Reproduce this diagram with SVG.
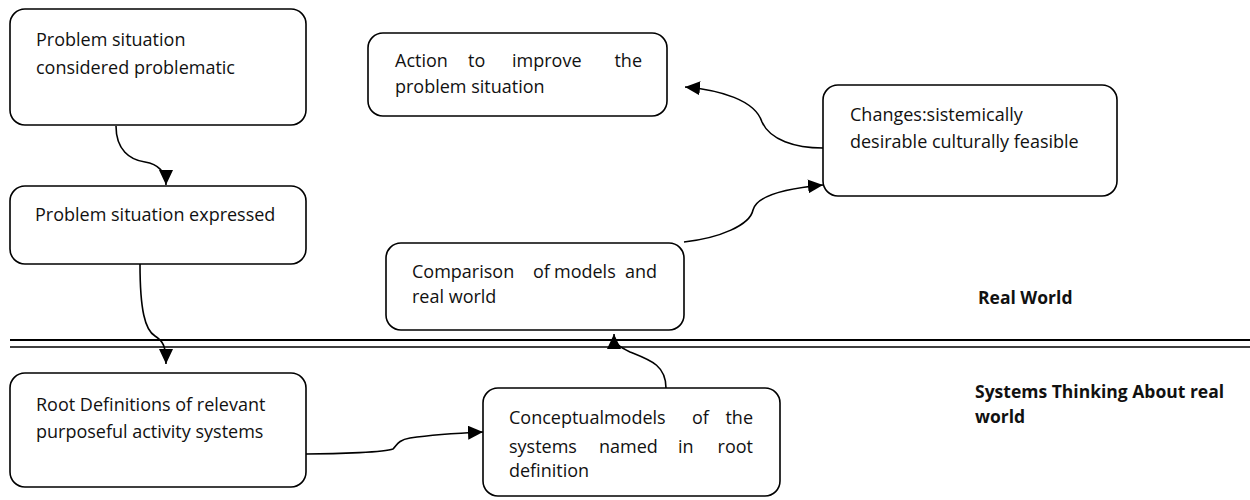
<svg xmlns="http://www.w3.org/2000/svg" width="1250" height="500" viewBox="0 0 1250 500">
<defs>
<style>
.box{fill:none;stroke:#000;stroke-width:1.6}
.t{font-family:"Open Sans","Liberation Sans",sans-serif;font-size:18px;fill:#111}
.b{font-family:"Open Sans","Liberation Sans",sans-serif;font-size:17.5px;font-weight:bold;fill:#111}
.c{fill:none;stroke:#000;stroke-width:1.6}
.sep{stroke:#000}
</style>
<marker id="ah" markerUnits="userSpaceOnUse" markerWidth="16" markerHeight="14" refX="15" refY="7" orient="auto">
<path d="M0,0 L15,7 L0,14 z" fill="#000"/>
</marker>
</defs>
<rect width="1250" height="500" fill="#fff"/>
<g id="separator">
<line class="sep" x1="10" y1="340" x2="1250" y2="340" stroke-width="2"/>
<line class="sep" x1="10" y1="347" x2="1250" y2="347" stroke-width="1.5"/>
</g>
<g id="n1">
<rect class="box" x="10" y="9" width="296" height="116" rx="15"/>
<text class="t" x="36" y="46">Problem situation</text>
<text class="t" x="36" y="74">considered problematic</text>
</g>
<g id="n2">
<rect class="box" x="10" y="186" width="296" height="78" rx="15"/>
<text class="t" x="35" y="221">Problem situation expressed</text>
</g>
<g id="n3">
<rect class="box" x="10" y="373" width="296" height="114" rx="15"/>
<text class="t" x="36" y="411">Root Definitions of relevant</text>
<text class="t" x="36" y="438">purposeful activity systems</text>
</g>
<g id="n4">
<rect class="box" x="483" y="388" width="297" height="108" rx="15"/>
<text class="t" y="424"><tspan x="509">Conceptualmodels</tspan><tspan x="692">of</tspan><tspan x="753" text-anchor="end">the</tspan></text>
<text class="t" y="453"><tspan x="509">systems</tspan><tspan x="599">named</tspan><tspan x="678">in</tspan><tspan x="753" text-anchor="end">root</tspan></text>
<text class="t" x="509" y="477">definition</text>
</g>
<g id="n5">
<rect class="box" x="386" y="243" width="298" height="87" rx="15"/>
<text class="t" y="278"><tspan x="412">Comparison</tspan><tspan x="533">of</tspan><tspan x="554">models</tspan><tspan x="657" text-anchor="end">and</tspan></text>
<text class="t" x="412" y="303">real world</text>
</g>
<g id="n6">
<rect class="box" x="823" y="85" width="294" height="111" rx="15"/>
<text class="t" x="850" y="121">Changes:sistemically</text>
<text class="t" x="850" y="148">desirable culturally feasible</text>
</g>
<g id="n7">
<rect class="box" x="368" y="33" width="299" height="83" rx="15"/>
<text class="t" y="67"><tspan x="395">Action</tspan><tspan x="468">to</tspan><tspan x="512">improve</tspan><tspan x="642" text-anchor="end">the</tspan></text>
<text class="t" x="395" y="93">problem situation</text>
</g>
<g id="labels">
<text class="b" x="978" y="304">Real World</text>
<text class="b" x="975" y="398">Systems Thinking About real</text>
<text class="b" x="975" y="423">world</text>
</g>
<g id="connectors">
<path class="c" marker-end="url(#ah)" d="M116,126 C116,150 130,160 145,162 C158,164 166,172 166,185"/>
<path class="c" marker-end="url(#ah)" d="M140,264 C140,310 145,330 155,336 C163,341 166,346 166,364"/>
<path class="c" marker-end="url(#ah)" d="M306,454 C340,454 385,452 393,449 C397,445 398,440 410,438 C430,435 460,433 483,432"/>
<path class="c" marker-end="url(#ah)" d="M666,388 C666,365 650,360 630,352 C620,347 614,344 614,334"/>
<path class="c" marker-end="url(#ah)" d="M684,242 C720,238 750,225 753,210 C757,195 790,188 823,185"/>
<path class="c" marker-end="url(#ah)" d="M823,148 C795,148 770,140 762,122 C755,100 720,90 685,87"/>
</g>
</svg>
